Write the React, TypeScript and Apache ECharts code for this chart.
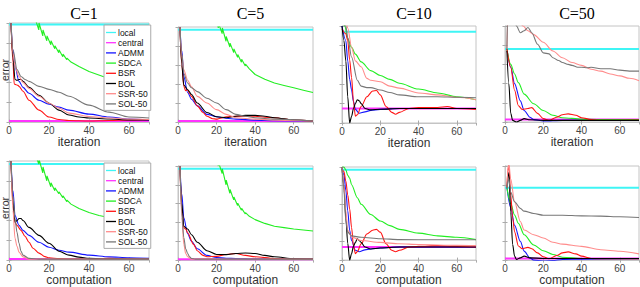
import React, { useEffect, useRef } from "react";
import * as echarts from "echarts";

const NAMES = ["local", "central", "ADMM", "SDCA", "BSR", "BOL", "SSR-50", "SOL-50"];
const TITLES = ["C=1", "C=5", "C=10", "C=50"];
const X_NAMES = ["iteration", "computation"];

// ---- Row 1: iteration, C=1 ----
const itC1Local = [[0, 0.985], [70, 0.985]];
const itC1Central = [[0, 0.01], [70, 0.01]];
const itC1Admm = [[1, 1.0], [2, 0.73], [3, 0.56], [5, 0.41], [7, 0.35], [10, 0.29], [15, 0.22], [20, 0.18], [25, 0.15], [30, 0.12], [40, 0.08], [50, 0.05], [60, 0.03], [70, 0.02]];
const itC1Sdca = [[12, 1.15], [13, 1.05], [14.9, 0.93], [15, 1.0], [16.9, 0.87], [17, 0.93], [18.9, 0.82], [19, 0.87], [20.9, 0.78], [21, 0.82], [22.9, 0.74], [23, 0.77], [24.9, 0.7], [25, 0.73], [26.9, 0.66], [27, 0.685], [28.9, 0.63], [29, 0.645], [31, 0.605], [35, 0.56], [40, 0.51], [47, 0.46], [55, 0.42], [62, 0.39], [70, 0.34]];
const itC1Bsr = [[1, 1.0], [2, 0.6], [2.6, 0.385], [3, 0.38], [4.5, 0.37], [5, 0.36], [7, 0.31], [10, 0.22], [15, 0.12], [20, 0.05], [25, 0.025], [30, 0.015], [40, 0.01], [50, 0.015], [60, 0.02], [70, 0.025]];
const itC1Bol = [[1, 1.0], [2, 0.65], [3, 0.43], [4, 0.42], [5, 0.43], [6, 0.43], [7, 0.41], [10, 0.35], [15, 0.27], [20, 0.19], [25, 0.12], [30, 0.07], [35, 0.05], [40, 0.04], [50, 0.03], [60, 0.02], [70, 0.02]];
const itC1Ssr = [[1, 1.0], [2, 0.7], [3, 0.56], [5, 0.46], [7, 0.4], [10, 0.34], [15, 0.26], [20, 0.19], [25, 0.14], [30, 0.09], [40, 0.055], [50, 0.04], [60, 0.03], [70, 0.025]];
const itC1Sol = [[1, 1.0], [2, 0.73], [4, 0.53], [6, 0.46], [8, 0.43], [10, 0.41], [15, 0.36], [20, 0.33], [25, 0.3], [30, 0.26], [40, 0.17], [50, 0.1], [60, 0.05], [70, 0.04]];

// ---- Row 1: iteration, C=5 ----
const itC5Local = [[0, 0.97], [70, 0.97]];
const itC5Central = [[0, 0.01], [70, 0.01]];
const itC5Admm = [[1, 1.0], [2, 0.75], [3, 0.48], [5, 0.31], [7, 0.24], [10, 0.17], [15, 0.08], [20, 0.055], [25, 0.04], [30, 0.03], [40, 0.02], [50, 0.015], [70, 0.01]];
const itC5Sdca = [[19.5, 1.1], [20.9, 0.99], [21, 1.04], [22.9, 0.93], [23, 0.99], [24.9, 0.85], [25, 0.9], [26.9, 0.79], [27, 0.83], [28.9, 0.73], [29, 0.77], [30.9, 0.68], [31, 0.71], [32.9, 0.63], [33, 0.66], [34.9, 0.59], [35, 0.61], [37, 0.56], [40, 0.5], [45, 0.45], [50, 0.41], [55, 0.385], [60, 0.36], [65, 0.335], [70, 0.31]];
const itC5Bsr = [[1, 1.0], [2, 0.6], [3, 0.375], [4, 0.33], [5, 0.34], [6, 0.3], [7, 0.27], [10, 0.17], [13, 0.1], [15, 0.06], [18, 0.035], [20, 0.03], [22, 0.04], [25, 0.055], [30, 0.06], [35, 0.06], [40, 0.06], [45, 0.05], [50, 0.045], [60, 0.02], [70, 0.01]];
const itC5Bol = [[1, 1.0], [2, 0.6], [3, 0.39], [5, 0.34], [7, 0.29], [10, 0.2], [15, 0.1], [20, 0.055], [25, 0.045], [30, 0.06], [35, 0.07], [40, 0.07], [45, 0.06], [50, 0.045], [60, 0.02], [70, 0.01]];
const itC5Ssr = [[1, 1.0], [2, 0.7], [3, 0.55], [5, 0.44], [7, 0.37], [10, 0.27], [15, 0.2], [20, 0.13], [25, 0.08], [30, 0.045], [40, 0.03], [50, 0.02], [70, 0.01]];
const itC5Sol = [[1, 1.0], [2, 0.72], [3, 0.51], [5, 0.41], [7, 0.36], [10, 0.32], [15, 0.25], [20, 0.2], [25, 0.13], [30, 0.08], [35, 0.06], [40, 0.045], [50, 0.03], [70, 0.01]];

// ---- Row 1: iteration, C=10 ----
const itC10Local = [[0, 0.94], [70, 0.94]];
const itC10Central = [[0, 0.15], [70, 0.15]];
const itC10Admm = [[0, 1.0], [2, 0.85], [3, 0.64], [4, 0.45], [5, 0.34], [6, 0.22], [7, 0.14], [9, 0.1], [12, 0.115], [15, 0.13], [20, 0.14], [30, 0.15], [40, 0.15], [70, 0.15]];
const itC10Sdca = [[0, 1.05], [1.5, 1.0], [3, 0.87], [5, 0.78], [7, 0.71], [10, 0.63], [15, 0.54], [20, 0.49], [25, 0.45], [30, 0.41], [40, 0.35], [50, 0.31], [60, 0.27], [70, 0.24]];
const itC10Bsr = [[0, 0.97], [2, 0.92], [3, 0.85], [4, 0.65], [5, 0.47], [6, 0.22], [7, 0.07], [8, 0.085], [10, 0.17], [13, 0.27], [16, 0.33], [18, 0.335], [20, 0.29], [23, 0.17], [26, 0.11], [28, 0.09], [30, 0.11], [35, 0.15], [40, 0.16], [50, 0.16], [55, 0.17], [60, 0.15], [70, 0.14]];
const itC10Bol = [[0, 1.0], [1, 0.85], [2, 0.64], [3, 0.27], [4, 0.0], [5, 0.07], [6, 0.15], [7, 0.2], [8, 0.24], [9, 0.23], [10, 0.2], [12, 0.15], [15, 0.135], [20, 0.142], [30, 0.15], [70, 0.15]];
const itC10Ssr = [[0, 1.1], [2, 1.05], [3, 0.98], [5, 0.78], [7, 0.64], [10, 0.58], [13, 0.46], [15, 0.44], [20, 0.425], [25, 0.38], [30, 0.36], [40, 0.31], [50, 0.29], [60, 0.265], [70, 0.24]];
const itC10Sol = [[0, 1.05], [2, 1.0], [3, 0.88], [5, 0.68], [8, 0.44], [10, 0.38], [13, 0.365], [15, 0.365], [20, 0.34], [25, 0.315], [30, 0.29], [40, 0.27], [50, 0.27], [60, 0.265], [70, 0.26]];

// ---- Row 1: iteration, C=50 ----
const itC50Local = [[0, 0.76], [70, 0.76]];
const itC50Central = [[0, 0.025], [70, 0.025]];
const itC50Admm = [[1, 0.76], [3, 0.57], [5, 0.4], [8, 0.22], [10, 0.12], [13, 0.05], [15, 0.025], [20, 0.01], [30, 0.017], [40, 0.02], [70, 0.02]];
const itC50Sdca = [[1, 0.76], [3, 0.6], [5, 0.5], [7, 0.41], [10, 0.29], [15, 0.19], [20, 0.12], [25, 0.07], [30, 0.045], [40, 0.03], [50, 0.025], [70, 0.025]];
const itC50Bsr = [[1, 0.76], [3, 0.57], [5, 0.33], [7, 0.17], [9, 0.13], [12, 0.14], [14, 0.15], [17, 0.09], [20, 0.035], [23, 0.017], [27, 0.05], [30, 0.075], [33, 0.085], [37, 0.07], [40, 0.045], [45, 0.025], [50, 0.017], [70, 0.02]];
const itC50Bol = [[1, 0.74], [2, 0.4], [3, 0.09], [4, 0.017], [6, 0.0], [8, 0.017], [10, 0.035], [13, 0.024], [20, 0.017], [70, 0.017]];
const itC50Ssr = [[1, 0.76], [1.5, 1.1], [2, 1.3], [9.5, 1.0], [12, 0.95], [15, 0.91], [20, 0.83], [25, 0.74], [30, 0.67], [35, 0.62], [40, 0.59], [45, 0.55], [50, 0.53], [55, 0.5], [60, 0.48], [65, 0.455], [70, 0.43]];
const itC50Sol = [[1, 0.76], [1.5, 1.2], [3, 1.3], [6, 1.0], [8, 0.93], [10, 0.95], [12, 0.985], [14, 0.93], [17, 0.81], [20, 0.72], [23, 0.71], [25, 0.67], [28, 0.64], [30, 0.62], [33, 0.6], [35, 0.59], [38, 0.57], [40, 0.57], [43, 0.565], [45, 0.57], [50, 0.555], [55, 0.555], [60, 0.54], [65, 0.53], [70, 0.53]];

// ---- Row 2: computation, C=1 ----
const cpC1Local = [[0, 0.97], [70, 0.97]];
const cpC1Central = [[0, 0.01], [70, 0.01]];
const cpC1Admm = [[1, 1.0], [2, 0.7], [3, 0.45], [5, 0.35], [7, 0.3], [10, 0.25], [15, 0.18], [20, 0.13], [25, 0.1], [30, 0.08], [40, 0.05], [50, 0.033], [60, 0.023], [70, 0.017]];
const cpC1Sdca = [[12.5, 1.1], [14.9, 0.97], [15, 1.02], [16.9, 0.88], [17, 0.94], [18.9, 0.8], [19, 0.85], [20.9, 0.74], [21, 0.78], [22.9, 0.7], [23, 0.73], [24.9, 0.67], [25, 0.69], [26.9, 0.63], [27, 0.65], [28.9, 0.59], [29, 0.605], [31, 0.565], [35, 0.52], [40, 0.48], [45, 0.45], [50, 0.43], [55, 0.4], [60, 0.37], [65, 0.345], [70, 0.32]];
const cpC1Bsr = [[1, 1.0], [2, 0.55], [3, 0.38], [4, 0.35], [6, 0.3], [8, 0.24], [10, 0.18], [12, 0.12], [15, 0.07], [18, 0.035], [20, 0.023], [25, 0.015], [30, 0.01], [40, 0.012], [50, 0.017], [60, 0.012], [70, 0.01]];
const cpC1Bol = [[1, 1.0], [2, 0.6], [3, 0.38], [4, 0.4], [5, 0.42], [6, 0.42], [7, 0.4], [10, 0.33], [15, 0.25], [20, 0.17], [25, 0.09], [30, 0.05], [35, 0.03], [40, 0.017], [50, 0.01], [70, 0.01]];
const cpC1Ssr = [[1, 1.0], [2, 0.5], [3, 0.22], [4, 0.14], [5, 0.08], [7, 0.033], [10, 0.01], [70, 0.01]];
const cpC1Sol = [[1, 1.0], [2, 0.65], [3, 0.42], [4, 0.28], [5, 0.17], [6, 0.09], [7, 0.05], [10, 0.017], [15, 0.01], [70, 0.01]];

// ---- Row 2: computation, C=5 ----
const cpC5Local = [[0, 0.97], [70, 0.97]];
const cpC5Central = [[0, 0.01], [70, 0.01]];
const cpC5Admm = [[1, 1.0], [2, 0.7], [3, 0.45], [5, 0.28], [7, 0.2], [10, 0.12], [15, 0.05], [20, 0.028], [25, 0.02], [30, 0.017], [40, 0.01], [70, 0.01]];
const cpC5Sdca = [[19.5, 1.1], [20.9, 1.0], [21, 1.04], [22.9, 0.92], [23, 0.97], [24.9, 0.8], [25, 0.85], [26.9, 0.71], [27, 0.75], [28.9, 0.64], [29, 0.67], [30.9, 0.58], [31, 0.605], [32.9, 0.53], [33, 0.55], [34.9, 0.49], [35, 0.505], [37, 0.465], [40, 0.43], [45, 0.39], [50, 0.36], [55, 0.345], [60, 0.33], [65, 0.32], [70, 0.31]];
const cpC5Bsr = [[1, 1.0], [2, 0.55], [3, 0.345], [4, 0.33], [5, 0.29], [8, 0.17], [10, 0.1], [13, 0.05], [15, 0.035], [20, 0.04], [25, 0.06], [30, 0.07], [35, 0.05], [40, 0.035], [50, 0.017], [60, 0.01], [70, 0.01]];
const cpC5Bol = [[1, 1.0], [2, 0.6], [3, 0.36], [5, 0.33], [7, 0.27], [10, 0.19], [15, 0.1], [20, 0.06], [25, 0.058], [30, 0.07], [35, 0.076], [40, 0.07], [45, 0.05], [50, 0.035], [60, 0.014], [70, 0.01]];
const cpC5Ssr = [[1, 1.0], [2, 0.45], [3, 0.17], [4, 0.07], [5, 0.035], [7, 0.01], [70, 0.01]];
const cpC5Sol = [[1, 1.0], [2, 0.5], [3, 0.24], [4, 0.12], [5, 0.07], [6, 0.035], [7, 0.017], [9, 0.01], [70, 0.01]];

// ---- Row 2: computation, C=10 ----
const cpC10Local = [[0, 0.97], [70, 0.97]];
const cpC10Central = [[0, 0.14], [70, 0.14]];
const cpC10Admm = [[0, 0.98], [1, 0.92], [2, 0.75], [3, 0.53], [4, 0.32], [5, 0.21], [7, 0.105], [9, 0.09], [12, 0.11], [15, 0.12], [20, 0.13], [30, 0.14], [70, 0.14]];
const cpC10Sdca = [[0, 1.02], [1, 1.0], [2, 0.97], [3, 0.91], [4, 0.88], [5, 0.81], [8, 0.67], [10, 0.6], [15, 0.49], [20, 0.42], [25, 0.37], [30, 0.33], [40, 0.29], [50, 0.26], [60, 0.245], [70, 0.22]];
const cpC10Bsr = [[0, 0.98], [1, 0.95], [2, 0.85], [3, 0.7], [4, 0.55], [5, 0.35], [6, 0.15], [7, 0.07], [8, 0.09], [10, 0.175], [13, 0.28], [16, 0.32], [18, 0.33], [20, 0.3], [23, 0.175], [26, 0.105], [28, 0.09], [30, 0.105], [35, 0.14], [40, 0.148], [50, 0.155], [60, 0.148], [70, 0.14]];
const cpC10Bol = [[0, 1.0], [1, 0.8], [2, 0.45], [3, 0.18], [4, 0.0], [5, 0.07], [6, 0.15], [7, 0.19], [8, 0.23], [9, 0.21], [10, 0.19], [12, 0.14], [15, 0.12], [20, 0.13], [30, 0.14], [70, 0.14]];
const cpC10Ssr = [[0, 1.0], [1, 0.8], [2, 0.53], [3, 0.32], [5, 0.25], [10, 0.21], [20, 0.19], [30, 0.175], [40, 0.168], [60, 0.158], [70, 0.155]];
const cpC10Sol = [[0, 1.0], [1, 0.75], [2, 0.42], [3, 0.3], [5, 0.26], [10, 0.245], [20, 0.23], [30, 0.22], [50, 0.218], [70, 0.218]];

// ---- Row 2: computation, C=50 ----
const cpC50Local = [[0, 0.77], [70, 0.77]];
const cpC50Central = [[0, 0.017], [70, 0.017]];
const cpC50Admm = [[1, 0.77], [3, 0.56], [5, 0.37], [8, 0.2], [10, 0.095], [13, 0.024], [15, 0.0], [20, -0.01], [25, -0.005], [30, 0.007], [40, 0.01], [70, 0.014]];
const cpC50Sdca = [[1, 0.77], [3, 0.6], [5, 0.48], [7, 0.39], [10, 0.27], [15, 0.16], [20, 0.1], [25, 0.06], [30, 0.03], [40, 0.017], [70, 0.014]];
const cpC50Bsr = [[1, 0.77], [1.5, 0.95], [2, 1.02], [3, 0.69], [4, 0.45], [5, 0.3], [7, 0.15], [9, 0.12], [12, 0.135], [14, 0.12], [17, 0.077], [20, 0.035], [23, 0.014], [27, 0.049], [30, 0.077], [33, 0.087], [37, 0.066], [40, 0.042], [45, 0.017], [50, 0.014], [70, 0.014]];
const cpC50Bol = [[1, 0.77], [2, 0.93], [3, 0.51], [4, 0.165], [5, 0.042], [6, 0.007], [8, 0.024], [10, 0.042], [13, 0.024], [20, 0.017], [70, 0.017]];
const cpC50Ssr = [[1, 0.77], [1.5, 0.95], [2, 1.03], [3, 0.86], [5, 0.62], [8, 0.41], [10, 0.32], [15, 0.27], [20, 0.235], [25, 0.19], [30, 0.17], [40, 0.146], [50, 0.11], [60, 0.094], [70, 0.066]];
const cpC50Sol = [[1, 0.77], [2, 0.86], [3, 0.72], [5, 0.62], [8, 0.55], [10, 0.52], [15, 0.495], [20, 0.477], [30, 0.477], [40, 0.47], [50, 0.467], [60, 0.46], [70, 0.453]];

const PANELS = [
  [itC1Local, itC1Central, itC1Admm, itC1Sdca, itC1Bsr, itC1Bol, itC1Ssr, itC1Sol],
  [itC5Local, itC5Central, itC5Admm, itC5Sdca, itC5Bsr, itC5Bol, itC5Ssr, itC5Sol],
  [itC10Local, itC10Central, itC10Admm, itC10Sdca, itC10Bsr, itC10Bol, itC10Ssr, itC10Sol],
  [itC50Local, itC50Central, itC50Admm, itC50Sdca, itC50Bsr, itC50Bol, itC50Ssr, itC50Sol],
  [cpC1Local, cpC1Central, cpC1Admm, cpC1Sdca, cpC1Bsr, cpC1Bol, cpC1Ssr, cpC1Sol],
  [cpC5Local, cpC5Central, cpC5Admm, cpC5Sdca, cpC5Bsr, cpC5Bol, cpC5Ssr, cpC5Sol],
  [cpC10Local, cpC10Central, cpC10Admm, cpC10Sdca, cpC10Bsr, cpC10Bol, cpC10Ssr, cpC10Sol],
  [cpC50Local, cpC50Central, cpC50Admm, cpC50Sdca, cpC50Bsr, cpC50Bol, cpC50Ssr, cpC50Sol],
];

const COLORS = ["#3ff5f5", "#ff33ff", "#1414ff", "#22ee22", "#ff1414", "#000000", "#ff8c8c", "#777777"];
const WIDTHS = [2, 2, 1.1, 1.1, 1.1, 1.1, 1.1, 1.1];
const SAWTOOTH_PANELS = [0, 1, 4, 5];

const GRIDS = [
  { left: 9, top: 23, width: 140, height: 99 },
  { left: 178, top: 27, width: 135, height: 95 },
  { left: 342, top: 26, width: 134, height: 97 },
  { left: 505, top: 26, width: 134, height: 96 },
  { left: 9, top: 161, width: 140, height: 100 },
  { left: 178, top: 166, width: 135, height: 96 },
  { left: 342, top: 167, width: 134, height: 95 },
  { left: 505, top: 166, width: 134, height: 95 },
];

const SANS = "'Liberation Sans', Arial, Helvetica, sans-serif";
const SERIF = "'Liberation Serif', 'Times New Roman', serif";
const BOX = "#c4c4c4";
const TICK = { show: true, inside: true, length: 2.5, lineStyle: { color: "#aaa" } };

export default function App() {
  const ref = useRef<HTMLDivElement>(null);
  useEffect(() => {
    if (!ref.current) return;
    const chart = echarts.init(ref.current, undefined, { renderer: "svg" });
    const grid = GRIDS.map((g) => ({ ...g, show: true, borderColor: BOX, borderWidth: 1, backgroundColor: "#fff" }));
    const xAxis: any[] = GRIDS.map((g, i) => ({
      type: "value",
      gridIndex: i,
      min: 0,
      max: 70,
      interval: 20,
      name: X_NAMES[i < 4 ? 0 : 1],
      nameLocation: "middle",
      nameGap: 13,
      nameTextStyle: { fontFamily: SANS, fontSize: 12, color: "#333" },
      axisLine: { show: true, lineStyle: { color: BOX } },
      axisTick: TICK,
      axisLabel: { show: true, margin: 3, fontFamily: SANS, fontSize: 10, color: "#444", showMaxLabel: false },
      splitLine: { show: false },
    }));
    GRIDS.forEach((g, i) => {
      xAxis.push({
        type: "value",
        gridIndex: i,
        position: "top",
        min: 0,
        max: 70,
        interval: 20,
        axisLine: { show: false },
        axisTick: TICK,
        axisLabel: { show: false },
        splitLine: { show: false },
      });
    });
    const yAxis: any[] = GRIDS.map((g, i) => ({
      type: "value",
      gridIndex: i,
      min: 0,
      max: 1,
      interval: 0.2,
      axisLine: { show: true, lineStyle: { color: BOX } },
      axisTick: TICK,
      axisLabel: { show: false },
      splitLine: { show: false },
    }));
    GRIDS.forEach((g, i) => {
      yAxis.push({
        type: "value",
        gridIndex: i,
        position: "right",
        min: 0,
        max: 1,
        interval: 0.2,
        axisLine: { show: false },
        axisTick: TICK,
        axisLabel: { show: false },
        splitLine: { show: false },
      });
    });
    const series: any[] = [];
    PANELS.forEach((panel, p) => {
      panel.forEach((data, k) => {
        const saw = k === 3 && SAWTOOTH_PANELS.includes(p);
        series.push({
          type: "line",
          name: NAMES[k],
          xAxisIndex: p,
          yAxisIndex: p,
          data,
          symbol: "none",
          showSymbol: false,
          smooth: saw || k < 2 ? false : 0.3,
          smoothMonotone: "x",
          clip: true,
          lineStyle: { color: COLORS[k], width: WIDTHS[k] },
          itemStyle: { color: COLORS[k] },
          z: 2 + k * 0.01,
        });
      });
    });
    const legendBase = {
      orient: "vertical",
      data: NAMES,
      icon: "path://M0,0H10V1.3H0Z",
      itemWidth: 10,
      itemHeight: 6,
      itemGap: 1.2,
      padding: [3, 3, 2, 2],
      backgroundColor: "#fff",
      borderColor: "#aaa",
      borderWidth: 1,
      selectedMode: false,
      textStyle: { fontFamily: SANS, fontSize: 8.5, lineHeight: 8.6, color: "#111", padding: [0, 0, 0, -3] },
    };
    const titles = TITLES.map((t, i) => ({
      text: t,
      left: GRIDS[i].left + GRIDS[i].width / 2,
      top: 0,
      textAlign: "center",
      textStyle: { fontFamily: SERIF, fontSize: 16, fontWeight: "normal", color: "#000" },
    }));
    chart.setOption({
      animation: false,
      backgroundColor: "#fff",
      title: titles,
      grid,
      xAxis,
      yAxis,
      legend: [
        { ...legendBase, left: 104, top: 25 },
        { ...legendBase, left: 104, top: 163 },
      ],
      graphic: [
        { type: "text", x: -1, y: 70, rotation: Math.PI / 2, style: { text: "error", fontFamily: SANS, fontSize: 10.5, fill: "#333", textAlign: "center", textVerticalAlign: "top" } },
        { type: "text", x: -1, y: 208, rotation: Math.PI / 2, style: { text: "error", fontFamily: SANS, fontSize: 10.5, fill: "#333", textAlign: "center", textVerticalAlign: "top" } },
      ],
      series,
    });
    return () => chart.dispose();
  }, []);
  return <div ref={ref} style={{ position: "absolute", left: 0, top: 0, width: 640, height: 287 }} />;
}
